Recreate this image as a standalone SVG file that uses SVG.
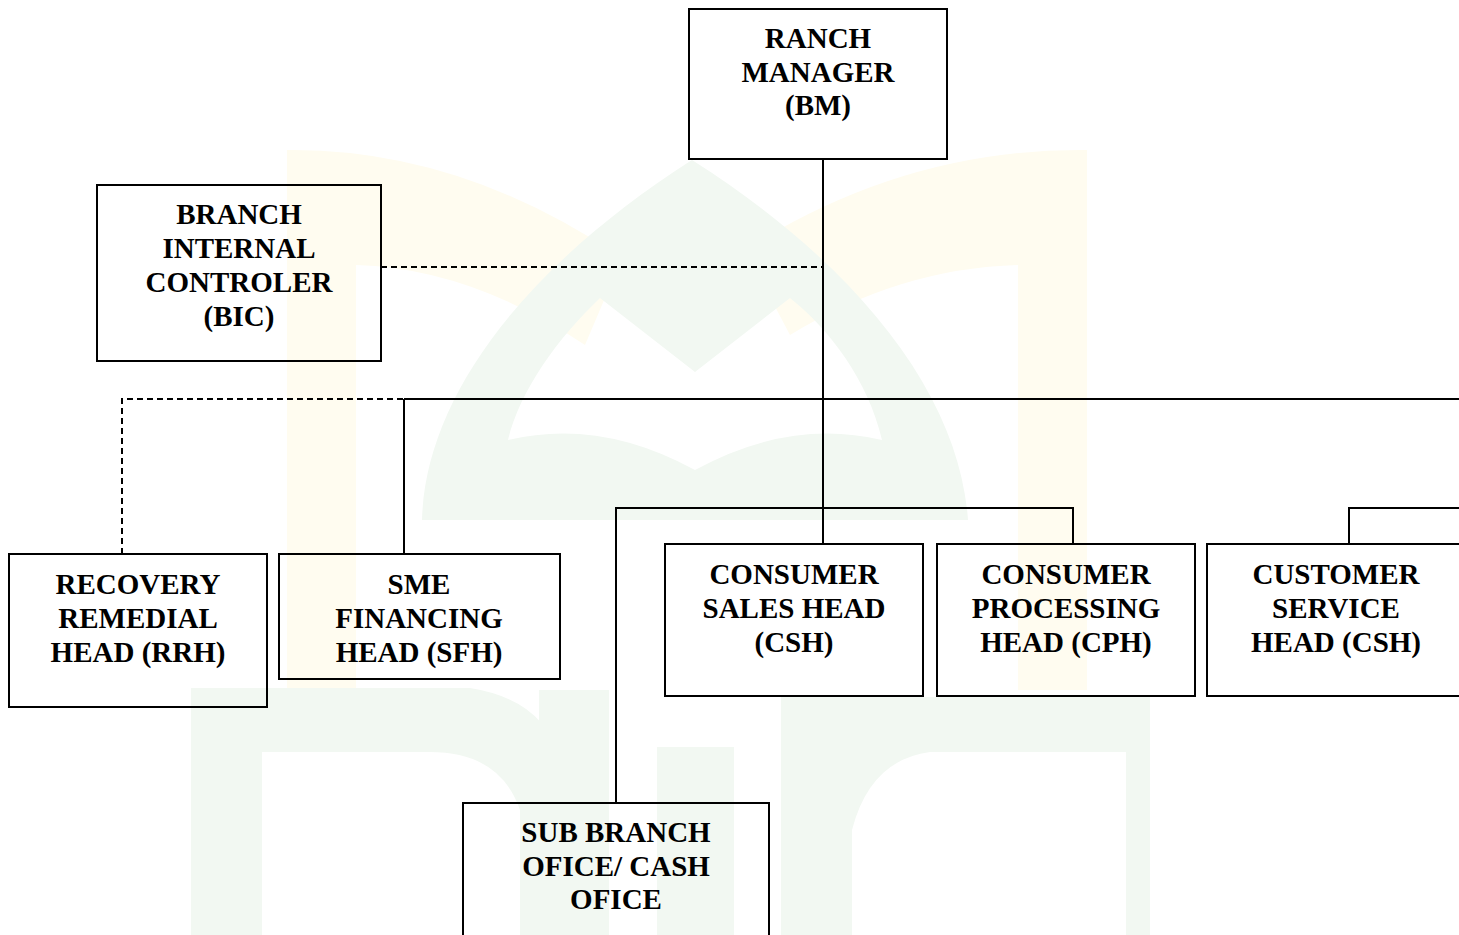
<svg xmlns="http://www.w3.org/2000/svg" width="1459" height="935" viewBox="0 0 1459 935">
<style>
.box{fill:none;stroke:#000;stroke-width:2}
.t{font-family:"Liberation Serif","Times New Roman",serif;font-weight:bold;font-size:29px;fill:#000;text-anchor:middle}
.ln{fill:none;stroke:#000;stroke-width:2}
.dash{fill:none;stroke:#000;stroke-width:2;stroke-dasharray:6 4}
.wy{fill:#fffcf0}
.wg{fill:#f2f8f2}
</style>
<rect x="0" y="0" width="1459" height="935" fill="#fff"/>
<g id="watermark">
  <path class="wy" d="M287,690 L287,150 Q460,148 622,258 L585,345 Q470,268 356,265 L356,690 Z"/>
  <path class="wy" d="M1087,690 L1087,150 Q905,148 745,250 L790,335 Q900,268 1018,265 L1018,690 Z"/>
  <path class="wg" fill-rule="evenodd" d="M422,520 C425,400 520,270 692,160 C865,270 960,400 968,520 Z M508,440 Q600,418 695,470 Q790,418 882,440 C868,380 830,330 790,298 L695,372 L600,298 C558,338 520,390 508,440 Z"/>
  <path class="wg" d="M191,935 L191,688 L470,688 Q545,700 560,760 L560,935 L520,935 L520,810 Q500,752 430,752 L262,752 L262,935 Z"/>
  <rect class="wg" x="539" y="690" width="70" height="245"/>
  <rect class="wg" x="657" y="747" width="77" height="188"/>
  <path class="wg" d="M781,935 L781,697 L1150,697 L1150,935 L1126,935 L1126,752 L930,752 Q870,760 852,830 L852,935 Z"/>
</g>
<g id="connectors">
  <path class="ln" d="M823,159 L823,544"/>
  <path class="dash" d="M381,267 L823,267"/>
  <path class="ln" d="M404,399 L1459,399"/>
  <path class="dash" d="M122,554 L122,399 L404,399"/>
  <path class="ln" d="M404,399 L404,554"/>
  <path class="ln" d="M616,803 L616,508 L1073,508 L1073,544"/>
  <path class="ln" d="M1349,544 L1349,508 L1459,508"/>
</g>
<g id="node-bm">
  <rect class="box" x="689" y="9" width="258" height="150"/>
  <text class="t" x="818" y="48">RANCH</text>
  <text class="t" x="818" y="82">MANAGER</text>
  <text class="t" x="818" y="115">(BM)</text>
</g>
<g id="node-bic">
  <rect class="box" x="97" y="185" width="284" height="176"/>
  <text class="t" x="239" y="224">BRANCH</text>
  <text class="t" x="239" y="258">INTERNAL</text>
  <text class="t" x="239" y="292">CONTROLER</text>
  <text class="t" x="239" y="326">(BIC)</text>
</g>
<g id="node-rrh">
  <rect class="box" x="9" y="554" width="258" height="153"/>
  <text class="t" x="138" y="594">RECOVERY</text>
  <text class="t" x="138" y="628">REMEDIAL</text>
  <text class="t" x="138" y="662">HEAD (RRH)</text>
</g>
<g id="node-sfh">
  <rect class="box" x="279" y="554" width="281" height="125"/>
  <text class="t" x="419" y="594">SME</text>
  <text class="t" x="419" y="628">FINANCING</text>
  <text class="t" x="419" y="662">HEAD (SFH)</text>
</g>
<g id="node-csh">
  <rect class="box" x="665" y="544" width="258" height="152"/>
  <text class="t" x="794" y="584">CONSUMER</text>
  <text class="t" x="794" y="618">SALES HEAD</text>
  <text class="t" x="794" y="652">(CSH)</text>
</g>
<g id="node-cph">
  <rect class="box" x="937" y="544" width="258" height="152"/>
  <text class="t" x="1066" y="584">CONSUMER</text>
  <text class="t" x="1066" y="618">PROCESSING</text>
  <text class="t" x="1066" y="652">HEAD (CPH)</text>
</g>
<g id="node-cs">
  <rect class="box" x="1207" y="544" width="270" height="152"/>
  <text class="t" x="1336" y="584">CUSTOMER</text>
  <text class="t" x="1336" y="618">SERVICE</text>
  <text class="t" x="1336" y="652">HEAD (CSH)</text>
</g>
<g id="node-sub">
  <rect class="box" x="463" y="803" width="306" height="150"/>
  <text class="t" x="616" y="842">SUB BRANCH</text>
  <text class="t" x="616" y="876">OFICE/ CASH</text>
  <text class="t" x="616" y="909">OFICE</text>
</g>
</svg>
